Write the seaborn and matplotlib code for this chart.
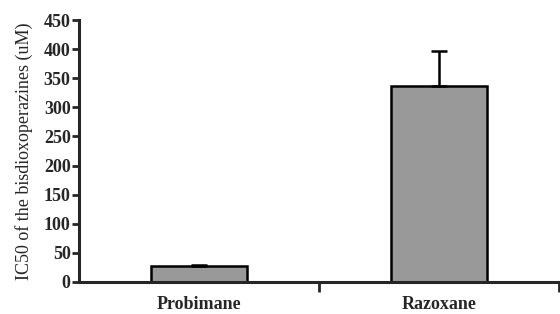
import pandas as pd
import matplotlib
matplotlib.use("Agg")
import matplotlib.pyplot as plt
import seaborn as sns

compounds = ["Probimane", "Razoxane"]
ic50 = [27, 337]
ic50_err = [3, 60]

sns.set_theme(style="ticks")
plt.rcParams['font.family'] = ['Liberation Serif', 'DejaVu Serif']

df = pd.DataFrame({'compound': compounds, 'ic50': ic50})

fig = plt.figure(figsize=(5.6, 3.14), dpi=100)
ax = fig.add_axes([0.141, 0.102, 0.857, 0.834])

sns.barplot(x='compound', y='ic50', data=df, color='#999999', width=0.4,
            edgecolor='black', linewidth=1.8, errorbar=None, ax=ax, saturation=1)
ax.errorbar(range(len(compounds)), ic50, yerr=[[0] * len(ic50_err), ic50_err],
            fmt='none', ecolor='black', elinewidth=1.8, capsize=6, capthick=1.8)

ax.set_xlim(-0.5, 1.5)
ax.set_ylim(0, 450)
ax.set_yticks(range(0, 451, 50))
ax.set_xlabel('')
ax.set_ylabel('IC50 of the bisdioxoperazines (uM)', fontsize=13, labelpad=8)

for lab in ax.get_yticklabels() + ax.get_xticklabels():
    lab.set_fontweight('bold')
    lab.set_fontsize(13)

ax.tick_params(axis='y', direction='out', length=5, width=2, pad=1)
ax.tick_params(axis='x', which='major', length=0, pad=10)
ax.set_xticks([0.5, 1.5], minor=True)
ax.tick_params(axis='x', which='minor', direction='out', length=7, width=2)

sns.despine(ax=ax)
for s in ['left', 'bottom']:
    ax.spines[s].set_linewidth(2.2)
ax.spines['left'].set_bounds(0, 450)

plt.savefig('out.png', dpi=100)
